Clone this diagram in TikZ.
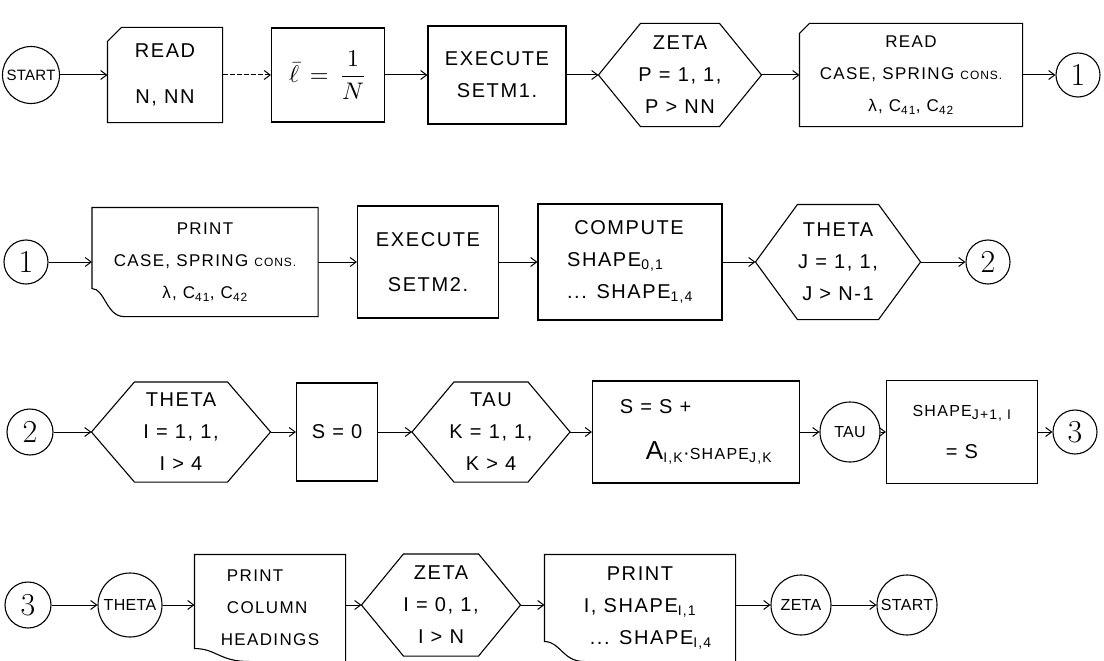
\documentclass[tikz,border=0pt]{standalone}
\usepackage{fontspec}
\newfontfamily\hand[LetterSpace=8]{Liberation Sans}
\newfontfamily\handtight[LetterSpace=2]{Liberation Sans}
\usetikzlibrary{arrows.meta}
\newcommand\myhex[2]{\draw (#1.west) -- ([xshift=#2]#1.north west) -- ([xshift=-#2]#1.north east) -- (#1.east) -- ([xshift=-#2]#1.south east) -- ([xshift=#2]#1.south west) -- cycle;}
\newcommand\mycard[2]{\draw (#1.south west) -- ([yshift=-#2]#1.north west) -- ([xshift=#2]#1.north west) -- (#1.north east) -- (#1.south east) -- cycle;}
\newcommand\mydoc[3]{\draw ([xshift=#3]#1.south west) .. controls ([xshift=0.45*#3]#1.south west) and ([xshift=0.4*#3,yshift=#2]#1.south west) .. ([yshift=#2]#1.south west) -- (#1.north west) -- (#1.north east) -- (#1.south east) -- cycle;}
\newcommand\myopendoc[3]{\draw ([xshift=#3]#1.south west) .. controls ([xshift=0.45*#3]#1.south west) and ([xshift=0.4*#3,yshift=#2]#1.south west) .. ([yshift=#2]#1.south west) -- (#1.north west) -- (#1.north east) -- (#1.south east);}
\begin{document}
\begin{tikzpicture}[x=1pt,y=-1pt,line width=1.1pt,
  every node/.style={font=\hand\fontsize{20}{32}\selectfont,inner sep=0pt,align=center},
  sz/.style 2 args={minimum width=#1pt,minimum height=#2pt},
  box/.style={draw,rectangle},
  ghost/.style={rectangle},
  term/.style={draw,circle,font=\handtight\fontsize{16}{18}\selectfont},
  conn/.style={draw,circle,minimum size=44pt,font=\rmfamily\fontsize{32}{32}\selectfont},
  arr/.style={-{Straight Barb[length=6pt,width=9pt]},line width=1pt},
  sm/.style={font=\hand\fontsize{17}{32}\selectfont}
  ]
\useasboundingbox (0,0) rectangle (1104,661);
% row 1
\node[term,minimum size=57pt,font=\handtight\fontsize{15}{18}\selectfont] (s1) at (31,75) {START};
\node[ghost,sz={114}{94}] (r1) at (165,75) {READ\\[14pt]N, NN};
\node[box,sz={113}{94},font=\normalsize] (lb) at (328,75) {\scalebox{2.4}{$\bar{\ell}\,=\,\displaystyle\frac{1}{N}$}};
\node[box,sz={138}{98}] (e1) at (497,75) {EXECUTE\\SETM1.};
\node[ghost,sz={162}{102}] (z1) at (680,75) {ZETA\\P = 1, 1,\\P > NN};
\node[ghost,sz={222}{102},sm] (r2) at (911,75) {READ\\CASE, SPRING {\fontsize{12}{32}\selectfont CONS.}\\λ, C\textsubscript{41}, C\textsubscript{42}};
\node[conn] (c1) at (1078,75) {1};
\mycard{r1}{14pt}
\myhex{z1}{42pt}
\mycard{r2}{10pt}
\draw[arr] (s1) -- (r1);
\draw[arr,dash pattern=on 5pt off 2pt] (r1) -- (lb);
\draw[arr] (lb) -- (e1);
\draw[arr] (e1) -- (z1);
\draw[arr] (z1) -- (r2);
\draw[arr] (r2) -- (c1);
% row 2
\node[conn] (c1b) at (26,262) {1};
\node[ghost,sz={225}{108},sm] (p1) at (205,262) {PRINT\\CASE, SPRING {\fontsize{12}{32}\selectfont CONS.}\\λ, C\textsubscript{41}, C\textsubscript{42}};
\node[box,sz={141}{112}] (e2) at (428,262) {EXECUTE\\[13pt]SETM2.};
\node[box,sz={184}{116},align=left] (cp) at (630,262) {\ COMPUTE\\SHAPE\textsubscript{0,1}\\... SHAPE\textsubscript{1,4}};
\node[ghost,sz={164}{114}] (t1) at (838,262) {THETA\\J = 1, 1,\\J > N-1};
\node[conn] (c2) at (988,262) {2};
\mydoc{p1}{28pt}{32pt}
\myhex{t1}{42pt}
\draw[arr] (c1b) -- (p1);
\draw[arr] (p1) -- (e2);
\draw[arr] (e2) -- (cp);
\draw[arr] (cp) -- (t1);
\draw[arr] (t1) -- (c2);
% row 3
\node[conn,minimum size=46pt] (c2b) at (30,432) {2};
\node[ghost,sz={178}{99}] (t2) at (181,432) {THETA\\I = 1, 1,\\I > 4};
\node[box,sz={81}{98}] (s0) at (337,432) {S = 0};
\node[ghost,sz={157}{99}] (ta) at (491,432) {TAU\\K = 1, 1,\\K > 4};
\node[box,sz={207}{102},align=left] (ss) at (696,432) {S = S +\\[14pt]\hspace*{26pt}{\fontsize{26}{32}\selectfont A}\textsubscript{I,K}·{\fontsize{16}{32}\selectfont SHAPE}\textsubscript{J,K}};
\node[term,minimum size=60pt] (tc) at (850,432) {TAU};
\node[box,sz={151}{103}] (sh) at (962,432) {{\fontsize{16}{32}\selectfont SHAPE}\textsubscript{J+1, I}\\[10pt]= S};
\node[conn] (c3) at (1075,432) {3};
\myhex{t2}{43pt}
\myhex{ta}{42pt}
\draw[arr] (c2b) -- (t2);
\draw[arr] (t2) -- (s0);
\draw[arr] (s0) -- (ta);
\draw[arr] (ta) -- (ss);
\draw[arr] (ss) -- (tc);
\draw[arr] (tc) -- (sh);
\draw[arr] (sh) -- (c3);
% row 4
\node[conn,minimum size=46pt] (c3b) at (28,605) {3};
\node[term,minimum size=64pt] (thc) at (130,605) {THETA};
\node[ghost,sz={150}{106},align=left,sm] (p2) at (270,608) {\ PRINT\\\ COLUMN\\HEADINGS};
\node[ghost,sz={158}{101}] (zh) at (441,605) {ZETA\\I = 0, 1,\\I > N};
\node[ghost,sz={190}{106}] (p3) at (640,608) {PRINT\\I, SHAPE\textsubscript{I,1}\\\ \ \ ... SHAPE\textsubscript{I,4}};
\node[term,minimum size=60pt] (zc) at (801,605) {ZETA};
\node[term,minimum size=60pt] (st) at (907,605) {START};
\myopendoc{p2}{13pt}{55pt}
\myhex{zh}{42pt}
\myopendoc{p3}{20pt}{40pt}
\draw[arr] (c3b) -- (thc);
\draw[arr] (thc) -- (p2.west |- thc);
\draw[arr] (p2.east |- zh) -- (zh);
\draw[arr] (zh) -- (p3.west |- zh);
\draw[arr] (p3.east |- zc) -- (zc);
\draw[arr] (zc) -- (st);
\end{tikzpicture}
\end{document}
